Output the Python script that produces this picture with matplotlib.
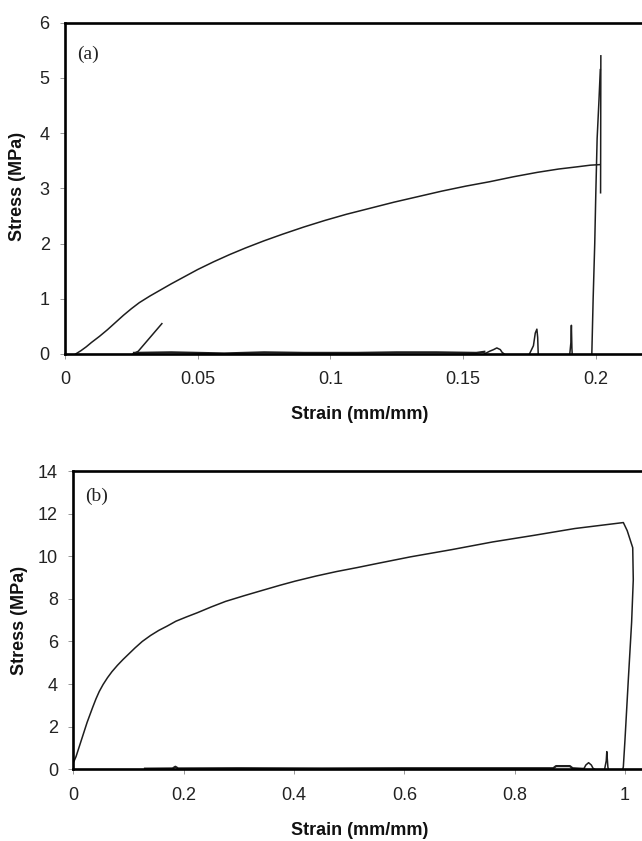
import matplotlib
matplotlib.use("Agg")
import matplotlib.pyplot as plt
from matplotlib.ticker import FuncFormatter

# ---------------- data: panel (a) ----------------
strain_a = [0.004, 0.006, 0.008, 0.010, 0.013, 0.016, 0.019, 0.022, 0.025, 0.028,
            0.032, 0.036, 0.040, 0.045, 0.050, 0.056, 0.062, 0.068, 0.075, 0.082,
            0.090, 0.098, 0.106, 0.115, 0.124, 0.133, 0.142, 0.151, 0.160, 0.169,
            0.178, 0.186, 0.193, 0.198, 0.2016]
stress_a = [0.0, 0.06, 0.13, 0.21, 0.32, 0.44, 0.57, 0.70, 0.82, 0.93,
            1.05, 1.16, 1.27, 1.40, 1.53, 1.67, 1.80, 1.92, 2.05, 2.17,
            2.30, 2.42, 2.53, 2.64, 2.75, 2.85, 2.95, 3.04, 3.12, 3.21,
            3.29, 3.35, 3.39, 3.42, 3.43]

slant_strain_a = [0.0256, 0.0276, 0.0365]
slant_stress_a = [0.0, 0.05, 0.55]

base_strain_a = [0.026, 0.040, 0.060, 0.075, 0.090, 0.110, 0.125, 0.140, 0.155, 0.158]
base_stress_a = [0.02, 0.03, 0.01, 0.03, 0.02, 0.02, 0.03, 0.03, 0.02, 0.04]

bump_strain_a = [0.158, 0.1600, 0.1615, 0.1627, 0.1640, 0.1647, 0.1655]
bump_stress_a = [0.0, 0.05, 0.08, 0.11, 0.08, 0.03, 0.0]

spike1_strain_a = [0.1750, 0.1765, 0.1772, 0.1778, 0.1781, 0.1783]
spike1_stress_a = [0.0, 0.15, 0.38, 0.45, 0.30, 0.0]

spike2_strain_a = [0.1902, 0.1906, 0.1908, 0.1910, 0.1911]
spike2_stress_a = [0.0, 0.20, 0.52, 0.10, 0.0]

rise_strain_a = [0.1985, 0.1990, 0.1996, 0.2000, 0.2005, 0.2012, 0.2017]
rise_stress_a = [0.0, 1.0, 2.0, 2.9, 3.9, 4.6, 5.15]

break_strain_a = [0.2018, 0.2019]
break_stress_a = [2.92, 5.40]

# ---------------- data: panel (b) ----------------
strain_b = [0.0, 0.0, 0.005, 0.010, 0.015, 0.020, 0.025, 0.030, 0.035, 0.041,
            0.047, 0.054, 0.062, 0.070, 0.080, 0.090, 0.100, 0.112, 0.125, 0.140,
            0.155, 0.170, 0.186, 0.205, 0.225, 0.250, 0.276, 0.310, 0.343, 0.375,
            0.402, 0.440, 0.477, 0.515, 0.551, 0.611, 0.686, 0.760, 0.835, 0.909,
            0.997, 1.004, 1.014, 1.015, 1.012, 1.006, 1.000, 0.997, 0.996]
stress_b = [0.0, 0.3, 0.6, 1.0, 1.4, 1.8, 2.2, 2.55, 2.9, 3.3,
            3.65, 3.98, 4.3, 4.58, 4.88, 5.15, 5.4, 5.7, 6.0, 6.28,
            6.52, 6.72, 6.95, 7.15, 7.35, 7.62, 7.88, 8.15, 8.4, 8.64,
            8.83, 9.07, 9.28, 9.47, 9.66, 9.97, 10.31, 10.67, 10.98, 11.30,
            11.58, 11.2, 10.4, 8.9, 6.9, 4.2, 1.4, 0.12, 0.0]

base_strain_b = [0.13, 0.18, 0.185, 0.19, 0.30, 0.45, 0.60, 0.75, 0.87, 0.875, 0.90, 0.905, 0.925]
base_stress_b = [0.03, 0.04, 0.12, 0.04, 0.05, 0.04, 0.05, 0.05, 0.05, 0.15, 0.15, 0.05, 0.02]

bump_strain_b = [0.925, 0.929, 0.934, 0.939, 0.942, 0.945]
bump_stress_b = [0.0, 0.2, 0.31, 0.2, 0.05, 0.0]

spike_strain_b = [0.963, 0.966, 0.967, 0.969, 0.970]
spike_stress_b = [0.0, 0.4, 0.83, 0.1, 0.0]

xticks_a = [0, 0.05, 0.1, 0.15, 0.2]
yticks_a = [0, 1, 2, 3, 4, 5, 6]
xticks_b = [0, 0.2, 0.4, 0.6, 0.8, 1.0]
yticks_b = [0, 2, 4, 6, 8, 10, 12, 14]

# ---------------- figure ----------------
W, H = 642, 841
fig = plt.figure(figsize=(W / 100, H / 100), dpi=100)

tick_font = "Liberation Sans"
LC = "#1e1e1e"
LW = 1.1


def style(ax, xt, yt, xlim, ylim):
    ax.set_xlim(*xlim)
    ax.set_ylim(*ylim)
    ax.set_xticks(xt)
    ax.set_yticks(yt)
    ax.xaxis.set_major_formatter(FuncFormatter(lambda v, p: "%g" % v))
    ax.yaxis.set_major_formatter(FuncFormatter(lambda v, p: "%g" % v))
    for s in ["top", "left", "bottom"]:
        ax.spines[s].set_linewidth(1.9)
        ax.spines[s].set_color("black")
    ax.spines["right"].set_visible(False)
    ax.tick_params(axis="both", direction="out", length=3.5, width=0.6, color="#888888",
                   labelsize=13, labelcolor="#222222")
    ax.tick_params(axis="x", pad=9)
    ax.tick_params(axis="y", pad=7.5)
    for lab in ax.get_xticklabels() + ax.get_yticklabels():
        lab.set_fontfamily(tick_font)
    ax.set_xlabel("Strain (mm/mm)", fontfamily=tick_font, fontweight="bold", fontsize=13,
                  color="#111111")
    ax.set_ylabel("Stress (MPa)", fontfamily=tick_font, fontweight="bold", fontsize=13,
                  color="#111111")


# panel (a)
ax1 = fig.add_axes([65 / W, 1 - 354 / H, 1 - 65 / W, (354 - 22.7) / H])
ax1.plot(strain_a, stress_a, color=LC, lw=LW)
ax1.plot(slant_strain_a, slant_stress_a, color=LC, lw=LW)
ax1.plot(base_strain_a, base_stress_a, color=LC, lw=1.6)
ax1.plot(bump_strain_a, bump_stress_a, color=LC, lw=LW)
ax1.plot(spike1_strain_a, spike1_stress_a, color=LC, lw=LW)
ax1.plot(spike2_strain_a, spike2_stress_a, color=LC, lw=LW)
ax1.plot(rise_strain_a, rise_stress_a, color=LC, lw=LW)
ax1.plot(break_strain_a, break_stress_a, color=LC, lw=LW)
style(ax1, xticks_a, yticks_a, (0, (642 - 65) / 2654), (0, 6))
ax1.xaxis.set_label_coords(0.51, -0.184)
ax1.xaxis.label.set_va("center")
ax1.yaxis.set_label_coords(-0.0815, 0.506)
ax1.yaxis.label.set_va("center")
ax1.text(0.0215, 0.905, "(a)", transform=ax1.transAxes, fontfamily="Liberation Serif",
         fontsize=14, color="#222222", va="center", ha="left")

# panel (b)
ax2 = fig.add_axes([73.3 / W, 1 - 769.3 / H, 1 - 73.3 / W, (769.3 - 471) / H])
ax2.plot(strain_b, stress_b, color=LC, lw=LW)
ax2.plot(base_strain_b, base_stress_b, color=LC, lw=1.6)
ax2.plot(bump_strain_b, bump_stress_b, color=LC, lw=LW)
ax2.plot(spike_strain_b, spike_stress_b, color=LC, lw=LW)
style(ax2, xticks_b, yticks_b, (0, (642 - 73.3) / 551.7), (0, 14))
ax2.xaxis.set_label_coords(0.504, -0.205)
ax2.xaxis.label.set_va("center")
ax2.yaxis.set_label_coords(-0.094, 0.5)
ax2.yaxis.label.set_va("center")
ax2.text(0.021, 0.915, "(b)", transform=ax2.transAxes, fontfamily="Liberation Serif",
         fontsize=14, color="#222222", va="center", ha="left")

fig.savefig("out.png", dpi=100)
